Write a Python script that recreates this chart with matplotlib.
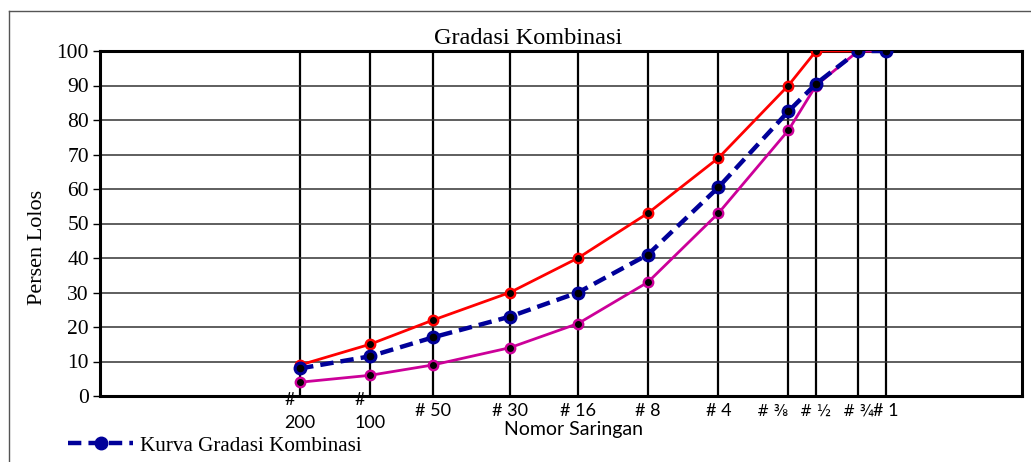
import matplotlib
matplotlib.use("Agg")
import matplotlib.pyplot as plt
from matplotlib.ticker import NullLocator, FixedLocator
from matplotlib.lines import Line2D

# ---- data ----
sieve_labels = ["#\n200", "#\n100", "# 50", "# 30", "# 16", "# 8", "# 4", "# \u215c", "# \u00bd", "# \u00be", "# 1"]
sieve_mm = [0.075, 0.15, 0.28, 0.6, 1.18, 2.36, 4.75, 9.5, 12.5, 19.0, 25.0]
spec_upper = [9, 15, 22, 30, 40, 53, 69, 90, 100, 100, 100]
spec_lower = [4, 6, 9, 14, 21, 33, 53, 77, 90, 100, 100]
combined = [8, 11.5, 17, 23, 30, 41, 60.5, 82.5, 90.5, 100, 100]
y_ticks = [0, 10, 20, 30, 40, 50, 60, 70, 80, 90, 100]

W, H = 1031, 462
fig = plt.figure(figsize=(W / 100, H / 100), dpi=100)
ax = fig.add_axes([100 / W, 1 - 396 / H, (1022 - 100) / W, (396 - 51) / H])

serif = ["Liberation Serif", "DejaVu Serif"]
sans = ["Lato", "DejaVu Sans"]

# spec lines
ax.plot(sieve_mm, spec_upper, color="#ff0000", lw=2, marker="o", ms=7.5,
        mfc="#ff0000", mec="#ff0000", zorder=3)
ax.plot(sieve_mm, spec_upper, ls="none", marker="o", ms=4, color="black", zorder=3.1)
ax.plot(sieve_mm, spec_lower, color="#cc0099", lw=2, marker="o", ms=7.5,
        mfc="#cc0099", mec="#cc0099", zorder=4)
ax.plot(sieve_mm, spec_lower, ls="none", marker="o", ms=4, color="black", zorder=4.1)
# combined
ax.plot(sieve_mm, combined, color="#000099", lw=3.2, ls=(0, (3, 1.6)), marker="o", ms=9,
        mfc="#000099", mec="#000099", zorder=5)
ax.plot(sieve_mm, combined, ls="none", marker="o", ms=4.5, color="black", zorder=5.1)

ax.set_xscale("log")
ax.set_xlim(0.0103, 96.4)
ax.set_ylim(0, 100)
ax.xaxis.set_major_locator(FixedLocator(sieve_mm))
ax.xaxis.set_minor_locator(NullLocator())
ax.set_xticklabels(sieve_labels)
ax.set_yticks(y_ticks)
ax.set_yticklabels([str(v) for v in y_ticks])

for lbl in ax.get_xticklabels():
    txt = lbl.get_text()
    lbl.set_ha("center")
    if any(c in txt for c in "\u215c\u00bd\u00be"):
        lbl.set_fontfamily(["DejaVu Sans"])
        lbl.set_fontsize(10.5)
        if "\u215c" in txt:
            lbl.set_ha("right")
    else:
        lbl.set_fontfamily(sans)
        lbl.set_fontsize(13)
    lbl.set_va("center")
    lbl.set_multialignment("left")
    lbl.set_linespacing(1.5)
for lbl in ax.get_yticklabels():
    lbl.set_fontfamily(serif)
    lbl.set_fontsize(15.5)

ax.tick_params(axis="x", length=0, pad=11)
ax.tick_params(axis="y", length=5, width=1, pad=3, direction="out")

ax.grid(axis="x", color="black", lw=1.6)
ax.grid(axis="y", color="#333333", lw=1.1)
ax.set_axisbelow(True)
for s in ax.spines.values():
    s.set_linewidth(2.2)
    s.set_color("black")

fig.text(528 / W, 1 - 39 / H, "Gradasi Kombinasi", family=serif, fontsize=17.5,
         ha="center", va="center")
fig.text(38 / W, 1 - 247 / H, "Persen Lolos", family=serif, fontsize=16,
         rotation=90, ha="center", va="center")
fig.text(573 / W, 1 - 430 / H, "Nomor Saringan", family=sans, fontsize=14,
         ha="center", va="center")

handle = Line2D([], [], color="#000099", lw=3.2, ls=(0, (3, 1.6)), marker="o", ms=9,
                mfc="#000099", mec="#000099")
leg = fig.legend([handle], ["Kurva Gradasi Kombinasi"], loc="center left",
                 bbox_to_anchor=(68 / W, 1 - 446 / H), frameon=False,
                 prop={"family": serif, "size": 15.2}, handlelength=3.1,
                 handletextpad=0.3, borderaxespad=0, borderpad=0)

# figure border (left and top)
fig.add_artist(Line2D([9 / W, 9 / W], [0, 1 - 11 / H], color="#555555", lw=1,
                      transform=fig.transFigure))
fig.add_artist(Line2D([9 / W, 1], [1 - 11 / H, 1 - 11 / H], color="#555555", lw=1,
                      transform=fig.transFigure))

fig.savefig("out.png", dpi=100)
